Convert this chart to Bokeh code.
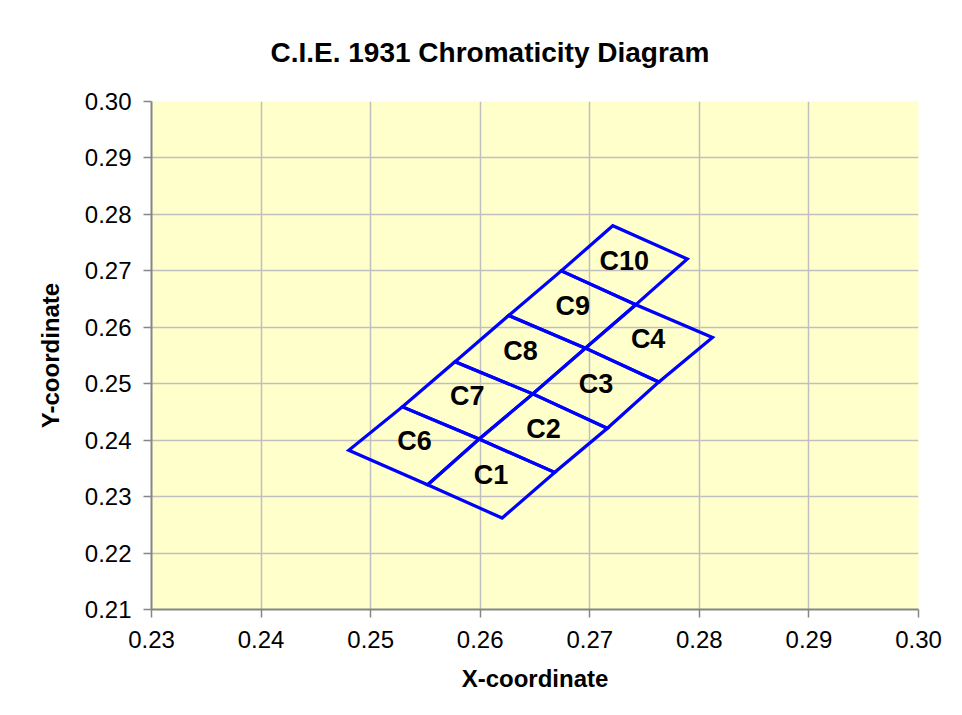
from bokeh.plotting import figure
from bokeh.models import Range1d, FixedTicker, NumeralTickFormatter, ColumnDataSource
from bokeh.embed import file_html
from bokeh.resources import INLINE
from bokeh.core.properties import value

# ---- data ----
x_ticks = [0.23, 0.24, 0.25, 0.26, 0.27, 0.28, 0.29, 0.30]
y_ticks = [0.21, 0.22, 0.23, 0.24, 0.25, 0.26, 0.27, 0.28, 0.29, 0.30]

# grid nodes along the three long edges of the bin layout
edge_a_x = [0.2480, 0.2529, 0.2577, 0.2626, 0.2674, 0.2721]
edge_a_y = [0.2382, 0.2459, 0.2539, 0.2621, 0.2700, 0.2780]
edge_b_x = [0.2552, 0.2599, 0.2648, 0.2696, 0.2742, 0.2789]
edge_b_y = [0.2321, 0.2402, 0.2482, 0.2563, 0.2640, 0.2721]
edge_c_x = [0.2620, 0.2668, 0.2716, 0.2763, 0.2812]
edge_c_y = [0.2262, 0.2343, 0.2421, 0.2503, 0.2582]

left_bins = ["C6", "C7", "C8", "C9", "C10"]   # between edge a and edge b
right_bins = ["C1", "C2", "C3", "C4"]         # between edge b and edge c

# ---- build quadrangles ----
names, xs, ys = [], [], []
for i, n in enumerate(left_bins):
    names.append(n)
    xs.append([edge_a_x[i], edge_b_x[i], edge_b_x[i + 1], edge_a_x[i + 1]])
    ys.append([edge_a_y[i], edge_b_y[i], edge_b_y[i + 1], edge_a_y[i + 1]])
for i, n in enumerate(right_bins):
    names.append(n)
    xs.append([edge_b_x[i], edge_c_x[i], edge_c_x[i + 1], edge_b_x[i + 1]])
    ys.append([edge_b_y[i], edge_c_y[i], edge_c_y[i + 1], edge_b_y[i + 1]])
cx = [sum(v) / 4 for v in xs]
cy = [sum(v) / 4 for v in ys]

src = ColumnDataSource(dict(xs=xs, ys=ys, name=names, cx=cx, cy=cy))

FONT = "Liberation Sans"

p = figure(width=953, height=707, output_backend="svg", toolbar_location=None,
           x_range=Range1d(x_ticks[0], x_ticks[-1]), y_range=Range1d(y_ticks[0], y_ticks[-1]),
           min_border_left=151, min_border_right=35, min_border_top=101, min_border_bottom=98,
           title="C.I.E. 1931 Chromaticity Diagram")

p.background_fill_color = "#FFFFCC"
p.border_fill_color = "white"
p.outline_line_color = None

p.title.text_font = FONT
p.title.text_font_size = "28px"
p.title.text_font_style = "bold"
p.title.align = "left"
p.title.offset = 119
p.title.standoff = 68
p.title.text_color = "black"

for ax in (p.xaxis[0], p.yaxis[0]):
    ax.major_label_text_font = FONT
    ax.major_label_text_font_size = "24px"
    ax.major_label_text_color = "black"
    ax.axis_label_text_font = FONT
    ax.axis_label_text_font_size = "24px"
    ax.axis_label_text_font_style = "bold"
    ax.axis_label_text_color = "black"
    ax.axis_line_color = "#868686"
    ax.axis_line_width = 2
    ax.major_tick_line_color = "#868686"
    ax.major_tick_line_width = 1.5
    ax.major_tick_out = 8
    ax.major_tick_in = 0
    ax.minor_tick_line_color = None
    ax.formatter = NumeralTickFormatter(format="0.00")

p.xaxis[0].ticker = FixedTicker(ticks=x_ticks)
p.yaxis[0].ticker = FixedTicker(ticks=y_ticks)
p.xaxis[0].axis_label = "X-coordinate"
p.yaxis[0].axis_label = "Y-coordinate"
p.xaxis[0].major_label_standoff = 13
p.yaxis[0].major_label_standoff = 12
p.xaxis[0].axis_label_standoff = 14
p.yaxis[0].axis_label_standoff = 18

p.xgrid.ticker = FixedTicker(ticks=x_ticks)
p.ygrid.ticker = FixedTicker(ticks=y_ticks)
p.xgrid.grid_line_color = "#BFBFBF"
p.ygrid.grid_line_color = "#BFBFBF"
p.xgrid.grid_line_width = 1.5
p.ygrid.grid_line_width = 1.5

p.patches("xs", "ys", source=src, fill_color=None, line_color="#0000FF",
          line_width=3.2, line_join="miter")
p.text("cx", "cy", text="name", source=src, text_font=value(FONT),
       text_font_size="27px", text_font_style="bold", text_color="black",
       text_align="center", text_baseline="middle", y_offset=-4)

open("out.html", "w").write(file_html(p, INLINE))
